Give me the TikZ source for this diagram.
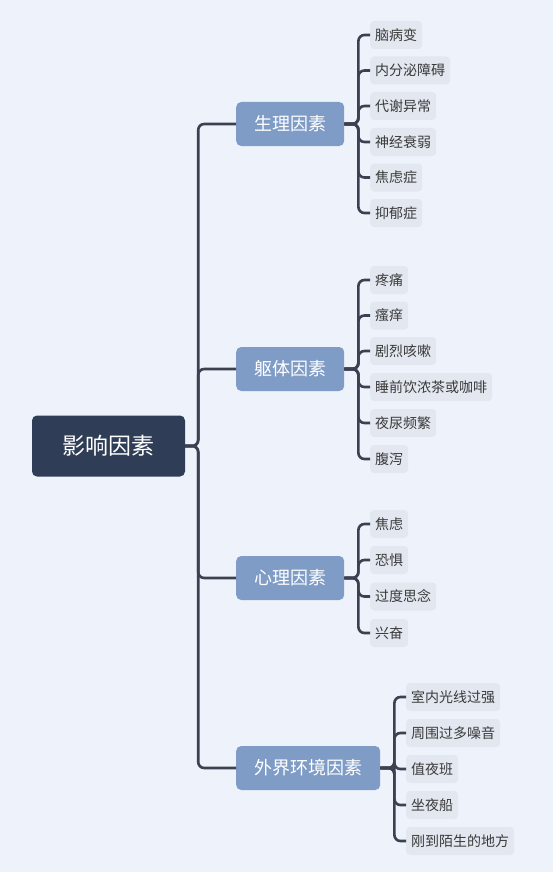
\documentclass[tikz,border=0pt]{standalone}
\usepackage{fontspec}
\setmainfont{Noto Sans CJK SC}
\definecolor{bgc}{HTML}{EDF2FB}
\definecolor{rootc}{HTML}{2F3E56}
\definecolor{branchc}{HTML}{7F9CC6}
\definecolor{leafc}{HTML}{E2E7F0}
\definecolor{linec}{HTML}{3B4150}
\definecolor{leaftext}{HTML}{3A3A3A}
\tikzset{
  rootbox/.style={fill=rootc, text=white, rounded corners=5pt, minimum width=153pt, minimum height=61pt, inner sep=0pt, font=\fontsize{23}{23}\selectfont},
  branchbox/.style={fill=branchc, text=white, rounded corners=5pt, minimum height=44pt, inner xsep=18pt, inner ysep=0pt, anchor=west, font=\fontsize{18}{18}\selectfont},
  leafbox/.style={fill=leafc, text=leaftext, rounded corners=4pt, minimum height=28pt, inner xsep=5pt, inner ysep=0pt, anchor=west, font=\fontsize{14}{14}\selectfont},
  conn/.style={draw=linec, line width=2.6pt, rounded corners=6pt}
}
\begin{document}
\begin{tikzpicture}[x=1pt,y=-1pt]
\fill[bgc] (0,0) rectangle (553,872);
\useasboundingbox (0,0) rectangle (553,872);
\node[rootbox] (root) at (108.5,446) {影响因素};
\node[branchbox] (b1) at (236,124) {生理因素};
\node[branchbox] (b2) at (236,369) {躯体因素};
\node[branchbox] (b3) at (236,578) {心理因素};
\node[branchbox] (b4) at (236,768) {外界环境因素};
% group 1
\node[leafbox] (l11) at (370,35) {脑病变};
\node[leafbox] (l12) at (370,70.5) {内分泌障碍};
\node[leafbox] (l13) at (370,106) {代谢异常};
\node[leafbox] (l14) at (370,142) {神经衰弱};
\node[leafbox] (l15) at (370,177.5) {焦虑症};
\node[leafbox] (l16) at (370,213) {抑郁症};
% group 2
\node[leafbox] (l21) at (370,280) {疼痛};
\node[leafbox] (l22) at (370,315.5) {瘙痒};
\node[leafbox] (l23) at (370,351) {剧烈咳嗽};
\node[leafbox] (l24) at (370,387) {睡前饮浓茶或咖啡};
\node[leafbox] (l25) at (370,423) {夜尿频繁};
\node[leafbox] (l26) at (370,459) {腹泻};
% group 3
\node[leafbox] (l31) at (370,524) {焦虑};
\node[leafbox] (l32) at (370,560) {恐惧};
\node[leafbox] (l33) at (370,596.5) {过度思念};
\node[leafbox] (l34) at (370,633) {兴奋};
% group 4
\node[leafbox] (l41) at (406,697) {室内光线过强};
\node[leafbox] (l42) at (406,733) {周围过多噪音};
\node[leafbox] (l43) at (406,769) {值夜班};
\node[leafbox] (l44) at (406,805) {坐夜船};
\node[leafbox] (l45) at (406,841) {刚到陌生的地方};
% trunk
\foreach \b in {b1,b2,b3,b4}
  \draw[conn] (root.east) -- ++(13,0) |- (\b.west);
\foreach \l in {l11,l12,l13,l14,l15,l16}
  \draw[conn] (b1.east) -- ++(14,0) |- (\l.west);
\foreach \l in {l21,l22,l23,l24,l25,l26}
  \draw[conn] (b2.east) -- ++(14,0) |- (\l.west);
\foreach \l in {l31,l32,l33,l34}
  \draw[conn] (b3.east) -- ++(14,0) |- (\l.west);
\foreach \l in {l41,l42,l43,l44,l45}
  \draw[conn] (b4.east) -- ++(14,0) |- (\l.west);
\end{tikzpicture}
\end{document}
